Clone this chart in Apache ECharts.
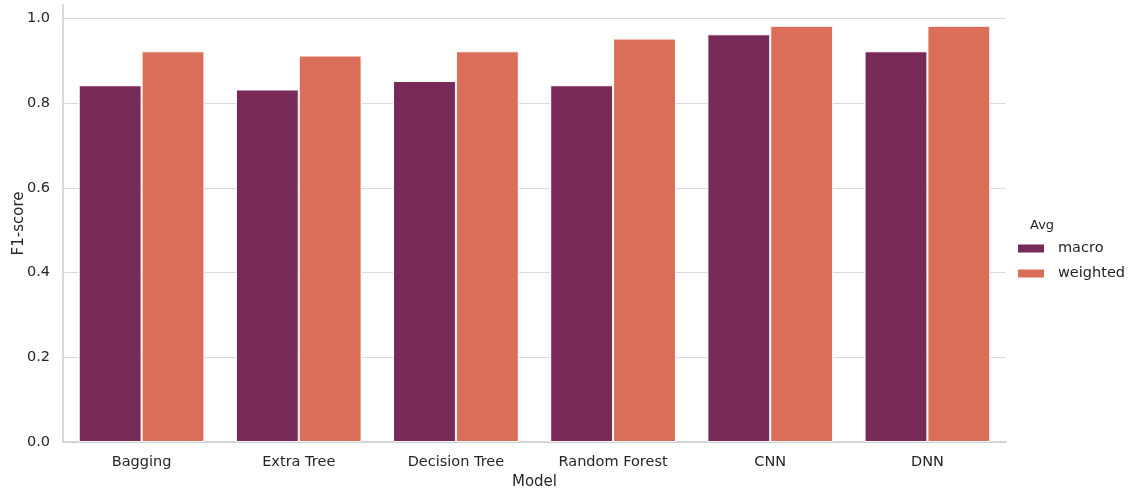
<!DOCTYPE html>
<html><head><meta charset="utf-8">
<script src="https://cdn.jsdelivr.net/npm/echarts@6/dist/echarts.min.js"></script>
<style>html,body{margin:0;padding:0;background:#fff}#c{width:1132px;height:489px}</style>
</head><body><div id="c"></div>
<script>
const categories = ["Bagging", "Extra Tree", "Decision Tree", "Random Forest", "CNN", "DNN"];
const macroValues = [0.84, 0.83, 0.85, 0.84, 0.96, 0.92];
const weightedValues = [0.92, 0.91, 0.92, 0.95, 0.98, 0.98];
const seriesNames = ["macro", "weighted"];
const legendTitle = "Avg";

const font = "DejaVu Sans";
const txt = '#262626';
const chart = echarts.init(document.getElementById('c'), null, {renderer: 'canvas'});
chart.setOption({
  animation: false,
  backgroundColor: '#ffffff',
  textStyle: {fontFamily: font},
  title: {text: legendTitle, left: 1025, top: 214, textStyle: {fontFamily: font, fontSize: 13, fontWeight: 'normal', color: txt}},
  legend: {
    orient: 'vertical', left: 1011, top: 236, itemWidth: 28, itemHeight: 10, itemGap: 10,
    icon: 'rect',
    textStyle: {fontFamily: font, fontSize: 14.5, color: txt, padding: [0, 0, 0, 8]},
    data: seriesNames
  },
  grid: [
    {left: 63, right: 126, top: 5, bottom: 47, containLabel: false, outerBoundsMode: 'none'},
    {left: 63, right: 126, top: 18.6, bottom: 47, containLabel: false, outerBoundsMode: 'none'}
  ],
  xAxis: [{
    type: 'category', data: categories, gridIndex: 0,
    name: 'Model', nameLocation: 'middle', nameGap: 33,
    nameTextStyle: {fontFamily: font, fontSize: 15, color: txt},
    axisLine: {lineStyle: {color: '#cccccc', width: 1.5}},
    axisTick: {show: false},
    axisLabel: {fontFamily: font, fontSize: 14.5, color: txt, margin: 13}
  }, {
    type: 'category', data: categories, gridIndex: 1, show: false
  }],
  yAxis: [{
    type: 'value', min: 0, max: 1.029, gridIndex: 0,
    name: 'F1-score', nameLocation: 'middle', nameGap: 36,
    nameTextStyle: {fontFamily: font, fontSize: 15, color: txt},
    axisLine: {show: true, lineStyle: {color: '#cccccc', width: 1.5}},
    axisTick: {show: false},
    axisLabel: {show: false},
    splitLine: {show: false}
  }, {
    type: 'value', min: 0, max: 1.0, interval: 0.2, gridIndex: 1,
    axisLine: {show: false},
    axisTick: {show: false},
    axisLabel: {fontFamily: font, fontSize: 14.5, color: txt, margin: 13, formatter: v => v.toFixed(1)},
    splitLine: {lineStyle: {color: '#d9d9d9', width: 1.2}}
  }],
  series: [
    {name: seriesNames[0], type: 'bar', data: macroValues, barGap: '0%', barCategoryGap: '20%',
     xAxisIndex: 0, yAxisIndex: 0,
     itemStyle: {color: '#772957', borderColor: '#ffffff', borderWidth: 1}},
    {name: seriesNames[1], type: 'bar', data: weightedValues,
     xAxisIndex: 0, yAxisIndex: 0,
     itemStyle: {color: '#db6e59', borderColor: '#ffffff', borderWidth: 1}}
  ]
});
</script></body></html>
